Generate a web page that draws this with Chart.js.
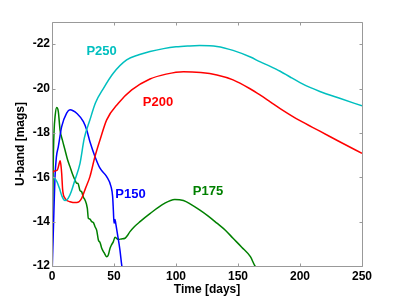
<!DOCTYPE html>
<html>
<head>
<meta charset="utf-8">
<script src="https://cdn.jsdelivr.net/npm/chart.js@4/dist/chart.umd.min.js"></script>
<style>
html,body{margin:0;padding:0;background:#fff;}
#wrap{width:399px;height:299px;}
</style>
</head>
<body>
<div id="wrap"><canvas id="c" width="399" height="299"></canvas></div>
<script>
// ---- data ----
const xTicks = [0, 50, 100, 150, 200, 250];
const yTicks = [-12, -14, -16, -18, -20, -22];

const p250Days = [0, 0.5, 2, 4, 6, 8, 10.5, 13, 15.5, 18.5, 22.6, 26, 30.6, 35, 41.4, 49.4, 60.2, 70, 79, 90, 100, 110, 119, 133, 146, 160, 168, 176, 184, 192, 200, 208, 216, 232, 250];
const p250Mag  = [-15.9, -16.0, -15.97, -15.8, -15.5, -15.15, -14.95, -15.05, -15.35, -15.88, -16.63, -17.75, -18.59, -19.35, -20.0, -20.69, -21.29, -21.52, -21.67, -21.8, -21.88, -21.92, -21.94, -21.9, -21.72, -21.42, -21.2, -21.0, -20.78, -20.52, -20.27, -20.05, -19.87, -19.56, -19.22];

const p200Days = [0, 2, 4.3, 5.5, 6.5, 7.2, 7.8, 8.6, 10.5, 14.5, 19.9, 23.9, 27, 30.6, 34.5, 38.7, 44.1, 53.5, 64.3, 79, 92, 106, 120, 133, 146, 160, 168, 176, 184, 200, 216, 232, 250];
const p200Mag  = [-16.2, -16.28, -16.33, -16.55, -16.75, -16.55, -16.18, -15.43, -15.05, -14.9, -14.86, -15.05, -15.5, -16.03, -16.9, -17.68, -18.59, -19.34, -19.94, -20.43, -20.65, -20.76, -20.72, -20.61, -20.39, -19.98, -19.7, -19.4, -19.1, -18.55, -18.08, -17.6, -17.08];

const p150Days = [0, 0.5, 1.2, 2.4, 3.5, 5.1, 7.8, 11.8, 14.5, 17, 19.9, 25.3, 28, 30.6, 34.7, 38.7, 44.1, 47.6, 48.9, 49.5, 50, 50.8, 51.6, 52.7, 54.8, 56.2, 58];
const p150Mag  = [-11.5, -12.5, -13.8, -16.0, -16.9, -17.38, -18.28, -18.89, -19.04, -19.0, -18.89, -18.51, -18.13, -17.6, -16.93, -16.41, -16.03, -15.58, -15.13, -14.5, -13.93, -14.1, -13.85, -13.47, -12.72, -12.05, -11.5];

const p175Days = [0, 0.5, 1, 1.6, 2.6, 3.8, 5.1, 6.5, 8.5, 10.5, 12.5, 14.5, 16.5, 18.5, 19.9, 21, 22.6, 23.9, 25.3, 26.6, 28.5, 29.3, 30.5, 32, 33.5, 34.7, 36, 37.4, 38.8, 40.1, 42, 44.1, 45.4, 46.8, 48, 49.5, 50.8, 52, 53.5, 56, 58.9, 60.5, 62.9, 66, 71, 79, 90, 99, 106, 112, 119, 126, 133, 140, 146, 153, 160, 163.7, 168];
const p175Mag  = [-11.5, -14.4, -16.6, -17.99, -18.8, -19.14, -18.96, -18.13, -17.65, -17.23, -16.8, -16.48, -16.15, -15.88, -15.73, -15.72, -15.4, -15.35, -15.1, -14.98, -14.6, -14.15, -14.12, -14.0, -13.95, -13.77, -13.62, -13.17, -13.05, -12.8, -12.6, -12.42, -12.5, -12.8, -12.95, -13.1, -13.3, -13.25, -13.2, -13.22, -13.25, -13.35, -13.55, -13.75, -14.0, -14.36, -14.8, -15.0, -14.95, -14.78, -14.53, -14.25, -13.93, -13.6, -13.25, -12.85, -12.42, -12.0, -11.7];

const seriesNames = ['P250', 'P200', 'P150', 'P175'];
const seriesColors = ['#00BFBF', '#FF0000', '#0000FF', '#008000'];
const labelDays = [40, 85.5, 63.3, 125.8];
const labelMags = [-21.67, -19.38, -15.23, -15.35];

function pts(xs, ys) { return xs.map((x, i) => ({x: x, y: ys[i]})); }
const allDays = [p250Days, p200Days, p150Days, p175Days];
const allMags = [p250Mag, p200Mag, p150Mag, p175Mag];

const FONT = "'Liberation Sans', Arial, Helvetica, sans-serif";

const framePlugin = {
  id: 'frame',
  afterDraw(chart) {
    const ctx = chart.ctx, a = chart.chartArea;
    const xs = chart.scales.x, ys = chart.scales.y;
    ctx.save();
    ctx.strokeStyle = '#999999';
    ctx.lineWidth = 1;
    ctx.beginPath();
    const L = Math.round(a.left) + 0.5, R = Math.round(a.right) + 0.5;
    const T = Math.round(a.top) + 0.5, B = Math.round(a.bottom) + 0.5;
    ctx.rect(L, T, R - L, B - T);
    const tl = 3;
    xTicks.forEach(v => {
      const px = Math.round(xs.getPixelForValue(v)) + 0.5;
      ctx.moveTo(px, B); ctx.lineTo(px, B - tl);
      ctx.moveTo(px, T); ctx.lineTo(px, T + tl);
    });
    yTicks.forEach(v => {
      const py = Math.round(ys.getPixelForValue(v)) + 0.5;
      ctx.moveTo(L, py); ctx.lineTo(L + tl, py);
      ctx.moveTo(R, py); ctx.lineTo(R - tl, py);
    });
    ctx.stroke();
    // series labels
    ctx.font = 'bold 13px ' + FONT;
    ctx.textAlign = 'center';
    ctx.textBaseline = 'middle';
    seriesNames.forEach((n, i) => {
      ctx.fillStyle = seriesColors[i];
      ctx.fillText(n, xs.getPixelForValue(labelDays[i]), ys.getPixelForValue(labelMags[i]));
    });
    ctx.restore();
  }
};

new Chart(document.getElementById('c'), {
  type: 'line',
  data: {
    datasets: seriesNames.map((n, i) => ({
      label: n,
      data: pts(allDays[i], allMags[i]),
      borderColor: seriesColors[i],
      borderWidth: 1.5,
      pointRadius: 0,
      fill: false,
      cubicInterpolationMode: 'monotone'
    }))
  },
  options: {
    responsive: false,
    animation: false,
    devicePixelRatio: 1,
    layout: { padding: { left: 13, right: 37, top: 22, bottom: 0 } },
    plugins: { legend: { display: false }, tooltip: { enabled: false } },
    scales: {
      x: {
        type: 'linear', min: 0, max: 250,
        afterBuildTicks(s) { s.ticks = xTicks.map(v => ({value: v})); },
        afterFit(s) { s.height = 33; },
        grid: { display: false, drawTicks: false },
        border: { display: false },
        ticks: { color: '#000', font: { family: FONT, size: 12, weight: 'bold' }, padding: 3, maxRotation: 0 },
        title: { display: true, text: 'Time [days]', color: '#000', font: { family: FONT, size: 12, weight: 'bold' }, padding: { top: 0, bottom: 2 } }
      },
      y: {
        type: 'linear', min: -23, max: -12, reverse: true,
        afterBuildTicks(s) { s.ticks = yTicks.map(v => ({value: v})); },
        afterFit(s) { s.width = 39; },
        grid: { display: false, drawTicks: false },
        border: { display: false },
        ticks: { color: '#000', font: { family: FONT, size: 12, weight: 'bold' }, padding: 2 },
        title: { display: true, text: 'U-band [mags]', color: '#000', font: { family: FONT, size: 12, weight: 'bold' }, padding: { top: 0, bottom: 0 } }
      }
    }
  },
  plugins: [framePlugin]
});
</script>
</body>
</html>
